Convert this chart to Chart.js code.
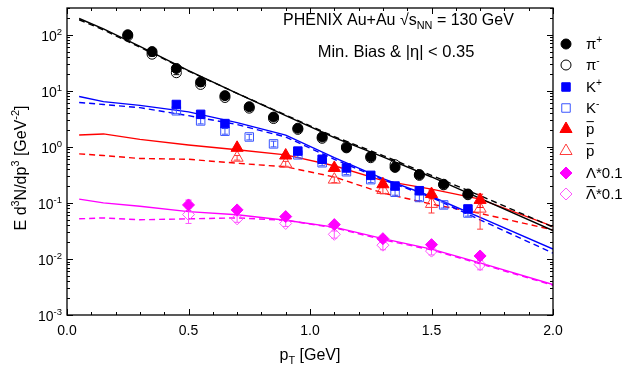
<!DOCTYPE html>
<html>
<head>
<meta charset="utf-8">
<script src="https://cdn.jsdelivr.net/npm/chart.js@4.4.1/dist/chart.umd.min.js"></script>
<style>
  html, body { margin: 0; padding: 0; background: #fff; }
</style>
</head>
<body>
<canvas id="spectra" width="638" height="372"></canvas>
<script>
/* ---------- data ---------- */

// measured points
const ptPi = [0.25, 0.35, 0.45, 0.55, 0.65, 0.75, 0.85, 0.95, 1.05, 1.15, 1.25, 1.35, 1.45, 1.55, 1.65];
const piPlus = [100, 50, 25, 14.4, 8.2, 5.2, 3.4, 2.15, 1.5, 0.96, 0.67, 0.43, 0.32, 0.215, 0.144];
const piMinus = [95, 45, 21, 13, 7.6, 4.9, 3.2, 2.05, 1.42, 1.0, 0.64, 0.48, 0.31, 0.21, 0.14];
const piMinusErr = [7, 3.5, 1.6, 1.0, 0.6, 0.4, 0.25, 0.16, 0.11, 0.08, 0.05, 0.04, 0.025, 0.017, 0.012];

const ptK = [0.45, 0.55, 0.65, 0.75, 0.85, 0.95, 1.05, 1.15, 1.25, 1.35, 1.45, 1.55, 1.65];
const kPlus = [5.7, 3.8, 2.6, null, null, 0.84, 0.6, 0.42, 0.31, 0.2, 0.165, null, 0.078];
const kMinus = [4.4, 2.9, 1.9, 1.5, 1.13, 0.72, 0.52, 0.36, 0.26, 0.155, 0.125, 0.092, 0.066];
const kMinusErr = [0.5, 0.33, 0.22, 0.17, 0.13, 0.08, 0.06, 0.04, 0.03, 0.018, 0.015, 0.011, 0.008];

const ptP = [0.7, 0.9, 1.1, 1.3, 1.5, 1.7];
const proton = [0.96, 0.70, 0.42, 0.215, 0.144, 0.113];
const protonErr = [0.08, 0.06, 0.04, 0.025, 0.025, 0.03];
const pbar = [0.64, 0.50, 0.26, 0.17, 0.096, 0.079];
const pbarErr = [0.06, 0.05, 0.03, 0.025, 0.03, 0.045];

const ptL = [0.5, 0.7, 0.9, 1.1, 1.3, 1.5, 1.7];
const lambda = [0.092, 0.075, 0.057, 0.041, 0.023, 0.018, 0.0113];
const lambdaErr = [0.02, 0.008, 0.006, 0.004, 0.003, 0.002, 0.0015];
const lambdaBar = [0.062, 0.052, 0.043, 0.0275, 0.0176, 0.0138, 0.0079];
const lambdaBarErr = [0.019, 0.007, 0.005, 0.004, 0.003, 0.002, 0.0015];

// model curves
const ptFit = [0.05, 0.15, 0.3, 0.5, 0.7, 0.9, 1.1, 1.3, 1.5, 1.7, 2.0];
const piPlusFit = [195, 127, 62, 23, 9.0, 3.6, 1.46, 0.66, 0.29, 0.12, 0.032];
const piMinusFit = [185, 122, 60, 22.5, 9.0, 3.7, 1.52, 0.70, 0.31, 0.135, 0.037];
const kPlusFit = [7.9, 6.4, 5.5, 4.2, 2.7, 1.62, 0.64, 0.27, 0.13, 0.055, 0.015];
const kMinusFit = [6.2, 5.7, 5.0, 3.6, 2.5, 1.5, 0.6, 0.26, 0.125, 0.05, 0.0127];
const pFit = [1.63, 1.70, 1.36, 1.08, 0.89, 0.72, 0.46, 0.25, 0.176, 0.117, 0.038];
const pbarFit = [0.75, 0.70, 0.62, 0.60, 0.51, 0.44, 0.29, 0.15, 0.095, 0.065, 0.033];
const lambdaFit = [0.117, 0.10, 0.087, 0.07, 0.0615, 0.049, 0.037, 0.023, 0.015, 0.0085, 0.0035];
const lambdaBarFit = [0.052, 0.054, 0.050, 0.052, 0.054, 0.049, 0.036, 0.022, 0.0145, 0.0082, 0.0034];

// axes
const xTicks = [0, 0.5, 1.0, 1.5, 2.0];
const xTickLabels = ['0.0', '0.5', '1.0', '1.5', '2.0'];
const yDecades = [-3, -2, -1, 0, 1, 2];

/* ---------- helpers ---------- */

const FONT = '"Liberation Sans", Arial, sans-serif';

function pts(xs, ys) {
    return xs.map((x, i) => ({ x: x, y: ys[i] })).filter(p => p.y != null);
}

function errs(ys, es) {
    return ys.filter(v => v != null).map((v, i) => es[i]);
}

function markers(label, xs, ys, style, radius, color, filled, err) {
    return {
        label: label,
        data: pts(xs, ys),
        err: err || null,
        pointStyle: style,
        pointRadius: radius,
        pointHoverRadius: radius,
        backgroundColor: filled ? color : 'rgba(0,0,0,0)',
        borderColor: color,
        pointBorderWidth: 1,
        showLine: false,
        order: 1
    };
}

function curve(xs, ys, color, dashed) {
    return {
        data: pts(xs, ys),
        showLine: true,
        borderColor: color,
        borderWidth: 1.4,
        borderDash: dashed ? [6, 4] : [],
        pointRadius: 0,
        tension: 0,
        order: 2
    };
}

// text with superscripts (1), subscripts (-1) and overlines (2)
function rich(ctx, parts, x, y, size, align) {
    const small = size * 0.68;
    let w = 0;
    parts.forEach(([t, m]) => {
        ctx.font = (m === 1 || m === -1 ? small : size) + 'px ' + FONT;
        w += ctx.measureText(t).width;
    });
    let cx = align === 'right' ? x - w : align === 'center' ? x - w / 2 : x;
    parts.forEach(([t, m]) => {
        const s = (m === 1 || m === -1) ? small : size;
        ctx.font = s + 'px ' + FONT;
        const dy = m === 1 ? -size * 0.42 : m === -1 ? size * 0.25 : 0;
        ctx.fillText(t, cx, y + dy);
        const tw = ctx.measureText(t).width;
        if (m === 2) {
            ctx.fillRect(cx + 0.5, y - size * 0.86, tw - 1, 1);
        }
        cx += tw;
    });
}

/* ---------- datasets ---------- */

const black = '#000000', blue = '#0000ff', red = '#ff0000', magenta = '#ff00ff';

const datasets = [
    markers('pi+', ptPi, piPlus, 'circle', 5, black, true),
    markers('pi-', ptPi, piMinus, 'circle', 5, black, false, piMinusErr),
    markers('K+', ptK, kPlus, 'rect', 6, blue, true),
    markers('K-', ptK, kMinus, 'rect', 6, '#3a55ff', false, errs(kMinus, kMinusErr)),
    markers('p', ptP, proton, 'triangle', 7, red, true, protonErr),
    markers('pbar', ptP, pbar, 'triangle', 7, '#ff3b3b', false, pbarErr),
    markers('L', ptL, lambda, 'rectRot', 6, magenta, true, lambdaErr),
    markers('Lbar', ptL, lambdaBar, 'rectRot', 6, '#ff55ff', false, lambdaBarErr),
    curve(ptFit, piPlusFit, black, false),
    curve(ptFit, piMinusFit, black, true),
    curve(ptFit, kPlusFit, blue, false),
    curve(ptFit, kMinusFit, blue, true),
    curve(ptFit, pFit, red, false),
    curve(ptFit, pbarFit, red, true),
    curve(ptFit, lambdaFit, magenta, false),
    curve(ptFit, lambdaBarFit, magenta, true)
];

/* ---------- plugins ---------- */

// vertical error bars, drawn just before their markers
const errorBars = {
    id: 'errorBars',
    beforeDatasetDraw(chart, args) {
        const ds = chart.data.datasets[args.index];
        if (!ds.err) return;
        const { ctx, scales: { x, y } } = chart;
        ctx.save();
        ctx.strokeStyle = ds.borderColor;
        ctx.lineWidth = 1;
        ds.data.forEach((p, i) => {
            const e = ds.err[i];
            if (e == null) return;
            const px = x.getPixelForValue(p.x);
            const top = y.getPixelForValue(p.y + e);
            const bot = y.getPixelForValue(Math.max(p.y - e, 1e-5));
            ctx.beginPath();
            ctx.moveTo(px, top); ctx.lineTo(px, bot);
            ctx.moveTo(px - 3, top); ctx.lineTo(px + 3, top);
            ctx.moveTo(px - 3, bot); ctx.lineTo(px + 3, bot);
            ctx.stroke();
        });
        ctx.restore();
    }
};

// frame, inward ticks, labels, titles, legend
const decorations = {
    id: 'decorations',
    afterDraw(chart) {
        const { ctx, chartArea: a, scales: { x, y } } = chart;
        ctx.save();
        ctx.strokeStyle = '#000';
        ctx.fillStyle = '#000';
        ctx.lineWidth = 1.3;
        ctx.strokeRect(a.left, a.top, a.right - a.left, a.bottom - a.top);

        ctx.lineWidth = 1;
        ctx.beginPath();
        // x ticks every 0.1, major every 0.5
        for (let i = 0; i <= 20; i++) {
            const px = Math.round(x.getPixelForValue(i / 10)) + 0.5;
            const len = i % 5 === 0 ? 6 : 3;
            ctx.moveTo(px, a.bottom); ctx.lineTo(px, a.bottom - len);
            ctx.moveTo(px, a.top); ctx.lineTo(px, a.top + len);
        }
        // log y ticks
        yDecades.forEach(d => {
            for (let m = 1; m <= 9; m++) {
                const v = m * Math.pow(10, d);
                if (v > y.max * 1.0001) break;
                const py = Math.round(y.getPixelForValue(v)) + 0.5;
                const len = m === 1 ? 6 : 3;
                ctx.moveTo(a.left, py); ctx.lineTo(a.left + len, py);
                ctx.moveTo(a.right, py); ctx.lineTo(a.right - len, py);
            }
        });
        ctx.stroke();

        // tick labels
        ctx.textBaseline = 'alphabetic';
        ctx.font = '14px ' + FONT;
        ctx.textAlign = 'center';
        xTicks.forEach((v, i) => {
            ctx.fillText(xTickLabels[i], x.getPixelForValue(v), a.bottom + 20);
        });
        ctx.textAlign = 'left';
        yDecades.forEach(d => {
            const py = y.getPixelForValue(Math.pow(10, d));
            rich(ctx, [['10', 0], [String(d), 1]], a.left - 5, py + 6, 14, 'right');
        });

        // axis titles
        rich(ctx, [['p', 0], ['T', -1], [' [GeV]', 0]], 310, 360, 16, 'center');
        ctx.save();
        ctx.translate(26, 168);
        ctx.rotate(-Math.PI / 2);
        rich(ctx, [['E d', 0], ['3', 1], ['N/dp', 0], ['3', 1], [' [GeV', 0], ['-2', 1], [']', 0]], 0, 0, 16, 'center');
        ctx.restore();

        // annotation
        rich(ctx, [['PHENIX Au+Au \u221As', 0], ['NN', -1], [' = 130 GeV', 0]], 283, 25, 16, 'left');
        rich(ctx, [['Min. Bias & |\u03B7| < 0.35', 0]], 396, 57, 16.5, 'center');

        // legend
        const rows = [44, 65, 87, 108, 129, 151, 173, 194];
        const texts = [
            [['\u03C0', 0], ['+', 1]],
            [['\u03C0', 0], ['-', 1]],
            [['K', 0], ['+', 1]],
            [['K', 0], ['-', 1]],
            [['p', 2]],
            [['p', 2]],
            [['\u039B*0.1', 0]],
            [['\u039B', 2], ['*0.1', 0]]
        ];
        for (let i = 0; i < 8; i++) {
            const ds = chart.data.datasets[i];
            ctx.save();
            ctx.fillStyle = ds.backgroundColor;
            ctx.strokeStyle = ds.borderColor;
            ctx.lineWidth = 1;
            Chart.helpers.drawPoint(ctx, {
                pointStyle: ds.pointStyle,
                radius: ds.pointRadius,
                rotation: 0,
                borderWidth: 1
            }, 566, rows[i]);
            ctx.restore();
            rich(ctx, texts[i], 586, rows[i] + 5, 15, 'left');
        }
        ctx.restore();
    }
};

/* ---------- chart ---------- */

new Chart(document.getElementById('spectra'), {
    type: 'scatter',
    data: { datasets: datasets },
    options: {
        responsive: false,
        animation: false,
        layout: { padding: { left: 67, right: 85, top: 5, bottom: 57 } },
        scales: {
            x: { type: 'linear', min: 0, max: 2, display: false },
            y: { type: 'logarithmic', min: 0.001, max: 300, display: false }
        },
        plugins: {
            legend: { display: false },
            tooltip: { enabled: false }
        }
    },
    plugins: [errorBars, decorations]
});
</script>
</body>
</html>
